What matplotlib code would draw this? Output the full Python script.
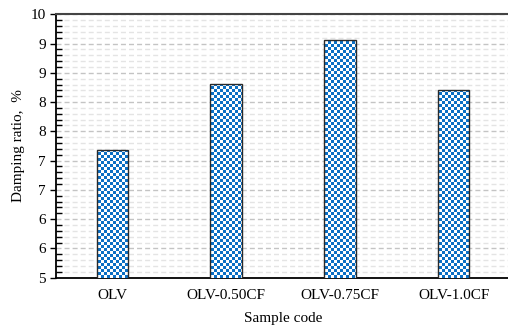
import matplotlib
matplotlib.use('Agg')
import matplotlib.pyplot as plt
import numpy as np
from matplotlib.colors import ListedColormap
from matplotlib.ticker import FixedLocator, FormatStrFormatter, AutoMinorLocator

# data
samples = ['OLV', 'OLV-0.50CF', 'OLV-0.75CF', 'OLV-1.0CF']
damping = [7.42, 8.67, 9.51, 8.56]
y_ticks = np.linspace(5, 10, 10)

plt.rcParams['font.family'] = ['Liberation Serif', 'DejaVu Serif']
plt.rcParams['lines.scale_dashes'] = False

blue = '#0a6fc4'

fig = plt.figure(figsize=(5.08, 3.29), dpi=100)
ax = fig.add_axes([0.1094, 0.156, 0.8955, 0.8006])

x = np.arange(len(samples))
bars = ax.bar(x, damping, width=0.278, facecolor='none',
              edgecolor='#2a2a2a', linewidth=1.0, zorder=4)

# checkerboard fill, clipped to each bar
nx, ny = 152, 88
checker = (np.add.outer(np.arange(ny), np.arange(nx)) % 2).astype(float)
cmap = ListedColormap(['white', blue])
for b in bars:
    im = ax.imshow(checker, cmap=cmap, extent=(-0.5, 3.5, 5, 10),
                   origin='lower', interpolation='nearest', aspect='auto',
                   zorder=3)
    im.set_clip_path(b)

ax.set_xlim(-0.5, 3.5)
ax.set_ylim(5, 10)
ax.set_xticks(x)
ax.set_xticklabels(samples, fontsize=11)
ax.yaxis.set_major_locator(FixedLocator(y_ticks))
ax.yaxis.set_major_formatter(FormatStrFormatter('%.0f'))
ax.yaxis.set_minor_locator(AutoMinorLocator(5))
ax.tick_params(axis='y', which='major', direction='out', length=4,
               width=1.0, labelsize=11, pad=3)
ax.tick_params(axis='y', which='minor', direction='in', length=4, width=1.0)
ax.tick_params(axis='x', length=0, pad=8)

ax.set_axisbelow(True)
ax.yaxis.grid(True, which='major', color='#c4c4c4', linewidth=1.0,
              linestyle=(0, (3.6, 2.2)))
ax.yaxis.grid(True, which='minor', color='#e4e4e4', linewidth=1.0,
              linestyle=(0, (3.6, 2.2)))

for side in ['left', 'bottom']:
    ax.spines[side].set_color('black')
    ax.spines[side].set_linewidth(1.3)
ax.spines['top'].set_color('#444444')
ax.spines['top'].set_linewidth(1.5)
ax.spines['right'].set_visible(False)

ax.set_xlabel('Sample code', fontsize=11, labelpad=7)
ax.set_ylabel('Damping ratio,  %', fontsize=11, labelpad=4)

fig.savefig('out.png', dpi=100)
